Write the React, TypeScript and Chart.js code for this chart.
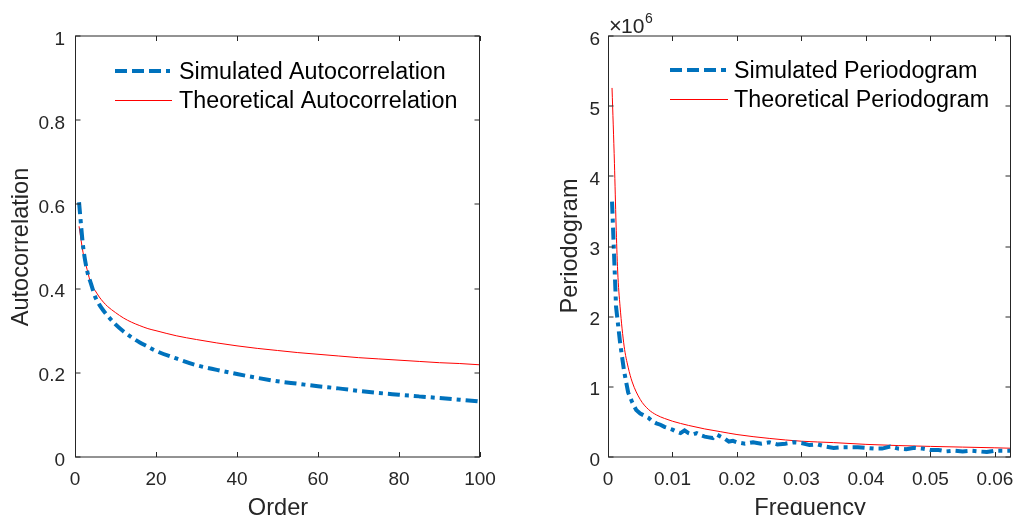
import React, { useEffect, useRef } from 'react';
import { Chart, registerables } from 'chart.js';

Chart.register(...registerables);

// ---------- Left chart data ----------
const orders = [1, 2, 3, 4, 5, 6, 7, 8, 10, 12, 14, 16, 18, 20, 25, 30, 35, 40, 45, 50, 55, 60, 65, 70, 75, 80, 85, 90, 95, 100];
const simulatedAuto = [0.605, 0.5, 0.442, 0.41, 0.38, 0.362, 0.348, 0.336, 0.315, 0.298, 0.284, 0.272, 0.262, 0.252, 0.234, 0.218, 0.207, 0.197, 0.188, 0.18, 0.174, 0.168, 0.163, 0.157, 0.152, 0.148, 0.144, 0.14, 0.136, 0.132];
const theoreticalAuto = [0.548, 0.485, 0.445, 0.41, 0.395, 0.38, 0.368, 0.358, 0.343, 0.33, 0.32, 0.312, 0.305, 0.3, 0.288, 0.279, 0.271, 0.264, 0.258, 0.253, 0.248, 0.244, 0.24, 0.236, 0.233, 0.23, 0.227, 0.224, 0.222, 0.219];
const autoXTicks = [0, 20, 40, 60, 80, 100];
const autoYTicks = [0, 0.2, 0.4, 0.6, 0.8, 1];

// ---------- Right chart data (values in units of 10^6) ----------
const simFreq = [0.000625, 0.00125, 0.001875, 0.0025, 0.003125, 0.00375, 0.004375, 0.005, 0.005625, 0.00625, 0.006875, 0.0075, 0.008125, 0.00875, 0.009375, 0.01, 0.010625, 0.01125, 0.011875, 0.0125, 0.013125, 0.01375, 0.014375, 0.015, 0.015625, 0.01625, 0.016875, 0.0175, 0.018125, 0.01875, 0.019375, 0.02, 0.02125, 0.0225, 0.02375, 0.025, 0.02625, 0.0275, 0.02875, 0.03, 0.03125, 0.0325, 0.03375, 0.035, 0.03625, 0.0375, 0.03875, 0.04, 0.04125, 0.0425, 0.04375, 0.045, 0.04625, 0.0475, 0.04875, 0.05, 0.05125, 0.0525, 0.05375, 0.055, 0.05625, 0.0575, 0.05875, 0.06, 0.06125, 0.0625];
const simulatedPer = [3.64, 2.14, 1.63, 1.22, 0.92, 0.78, 0.67, 0.62, 0.59, 0.56, 0.51, 0.48, 0.46, 0.43, 0.41, 0.39, 0.36, 0.34, 0.38, 0.34, 0.32, 0.34, 0.31, 0.29, 0.28, 0.27, 0.32, 0.29, 0.26, 0.22, 0.23, 0.21, 0.19, 0.21, 0.19, 0.21, 0.18, 0.19, 0.21, 0.2, 0.17, 0.18, 0.15, 0.13, 0.14, 0.14, 0.14, 0.13, 0.12, 0.12, 0.15, 0.12, 0.11, 0.13, 0.12, 0.1, 0.1, 0.08, 0.09, 0.08, 0.09, 0.08, 0.07, 0.09, 0.09, 0.09];
const theoFreq = [0.000625, 0.001, 0.00125, 0.0015, 0.001875, 0.0025, 0.003125, 0.00375, 0.005, 0.00625, 0.0075, 0.00875, 0.01, 0.0125, 0.015, 0.0175, 0.02, 0.025, 0.03, 0.035, 0.04, 0.045, 0.05, 0.055, 0.06, 0.0625];
const theoreticalPer = [5.26, 4.18, 3.32, 2.65, 2.14, 1.58, 1.28, 1.07, 0.82, 0.68, 0.6, 0.55, 0.51, 0.45, 0.4, 0.36, 0.32, 0.265, 0.225, 0.205, 0.18, 0.163, 0.151, 0.141, 0.131, 0.125];
const perXTicks = [0, 0.01, 0.02, 0.03, 0.04, 0.05, 0.06];
const perYTicks = [0, 1, 2, 3, 4, 5, 6];

const FONT = '"Liberation Sans", Arial, Helvetica, sans-serif';
const AXIS = '#262626';
const BLUE = '#0072BD';
const RED = '#FF0000';
const DASH = [12, 5, 4, 5];

type Decor = {
  xTicks: number[];
  yTicks: number[];
  xFmt: (v: number) => string;
  yFmt: (v: number) => string;
  yLabelGap: number;
  xTitle: string;
  xTitleX: number;
  yTitle: string;
  yTitleX: number;
  yTitleY: number;
  legend: { x0: number; x1: number; tx: number; y1: number; y2: number; labels: string[] };
  exponent?: { x: number };
};

function makeDecor(d: Decor) {
  return {
    id: 'decor',
    afterDraw(chart: any) {
      const ctx: CanvasRenderingContext2D = chart.ctx;
      const a = chart.chartArea;
      const xs = chart.scales.x;
      const ys = chart.scales.y;
      const L = Math.round(a.left) + 0.5;
      const R = Math.round(a.right) - 0.5;
      const T = Math.round(a.top);
      const B = Math.round(a.bottom);
      ctx.save();
      ctx.strokeStyle = AXIS;
      ctx.lineWidth = 1;
      ctx.setLineDash([]);
      ctx.beginPath();
      ctx.moveTo(L, T); ctx.lineTo(L, B);
      ctx.moveTo(R, T); ctx.lineTo(R, B);
      ctx.moveTo(L - 0.5, T); ctx.lineTo(R + 0.5, T);
      ctx.moveTo(L - 0.5, B); ctx.lineTo(R + 0.5, B);
      const TL = 5;
      d.xTicks.forEach((v) => {
        const px = Math.round(xs.getPixelForValue(v)) + 0.5;
        ctx.moveTo(px, B); ctx.lineTo(px, B - TL);
        ctx.moveTo(px, T); ctx.lineTo(px, T + TL);
      });
      d.yTicks.forEach((v) => {
        const py = Math.round(ys.getPixelForValue(v));
        ctx.moveTo(L, py); ctx.lineTo(L + TL, py);
        ctx.moveTo(R, py); ctx.lineTo(R - TL, py);
      });
      ctx.stroke();

      // tick labels
      ctx.fillStyle = AXIS;
      ctx.font = `19px ${FONT}`;
      ctx.textBaseline = 'alphabetic';
      ctx.textAlign = 'center';
      d.xTicks.forEach((v) => {
        const px = xs.getPixelForValue(v);
        ctx.fillText(d.xFmt(v), px, B + 28);
      });
      ctx.textAlign = 'right';
      d.yTicks.forEach((v) => {
        const py = ys.getPixelForValue(v);
        ctx.fillText(d.yFmt(v), a.left - d.yLabelGap, py + 8.5);
      });

      // axis titles
      ctx.font = `23.6px ${FONT}`;
      ctx.textAlign = 'center';
      ctx.fillText(d.xTitle, d.xTitleX, 515);
      ctx.save();
      ctx.translate(d.yTitleX, d.yTitleY);
      ctx.rotate(-Math.PI / 2);
      ctx.fillText(d.yTitle, 0, 0);
      ctx.restore();

      // exponent label
      if (d.exponent) {
        const ex = d.exponent.x;
        ctx.textAlign = 'left';
        ctx.font = `22px ${FONT}`;
        ctx.fillText('\u00D7', ex - 1, 33);
        ctx.font = `21px ${FONT}`;
        ctx.fillText('10', ex + 11, 33);
        ctx.font = `14px ${FONT}`;
        ctx.fillText('6', ex + 35, 23);
      }

      // legend
      const lg = d.legend;
      ctx.lineCap = 'butt';
      ctx.strokeStyle = BLUE;
      ctx.lineWidth = 4;
      ctx.setLineDash([12, 5]);
      ctx.beginPath();
      ctx.moveTo(lg.x0, lg.y1); ctx.lineTo(lg.x1, lg.y1);
      ctx.stroke();
      ctx.setLineDash([]);
      ctx.strokeStyle = RED;
      ctx.lineWidth = 1;
      ctx.beginPath();
      ctx.moveTo(lg.x0, lg.y2 + 0.5); ctx.lineTo(lg.x1 + 2, lg.y2 + 0.5);
      ctx.stroke();
      ctx.fillStyle = '#000';
      ctx.font = `23.3px ${FONT}`;
      ctx.textAlign = 'left';
      ctx.fillText(lg.labels[0], lg.tx, lg.y1 + 8);
      ctx.fillText(lg.labels[1], lg.tx, lg.y2 + 8);
      ctx.restore();
    },
  };
}

const fmtNum = (v: number) => String(Number(v.toFixed(4)));

function scaleOpts(min: number, max: number, ticks: number[], size: number, horizontal: boolean) {
  return {
    type: 'linear' as const,
    min,
    max,
    grid: { display: false, drawTicks: false },
    border: { display: false },
    ticks: { display: false, includeBounds: false },
    afterBuildTicks: (s: any) => {
      s.ticks = ticks.map((v) => ({ value: v }));
    },
    afterFit: (s: any) => {
      if (horizontal) s.height = size;
      else s.width = size;
    },
  };
}

export default function App() {
  const ref1 = useRef<HTMLCanvasElement>(null);
  const ref2 = useRef<HTMLCanvasElement>(null);

  useEffect(() => {
    const c1 = new Chart(ref1.current!, {
      type: 'line',
      data: {
        datasets: [
          {
            label: 'Simulated Autocorrelation',
            data: orders.map((o, i) => ({ x: o, y: simulatedAuto[i] })),
            borderColor: BLUE,
            borderWidth: 4,
            borderDash: DASH,
            pointRadius: 0,
            cubicInterpolationMode: 'monotone',
            fill: false,
          },
          {
            label: 'Theoretical Autocorrelation',
            data: orders.map((o, i) => ({ x: o, y: theoreticalAuto[i] })),
            borderColor: RED,
            borderWidth: 1,
            pointRadius: 0,
            cubicInterpolationMode: 'monotone',
            fill: false,
          },
        ],
      },
      options: {
        responsive: false,
        animation: false,
        layout: { padding: { left: 0, top: 36, right: 26, bottom: 0 } },
        plugins: { legend: { display: false }, tooltip: { enabled: false } },
        scales: {
          x: scaleOpts(0, 100, autoXTicks, 58, true),
          y: scaleOpts(0, 1, autoYTicks, 75, false),
        },
      } as any,
      plugins: [
        makeDecor({
          xTicks: autoXTicks,
          yTicks: autoYTicks,
          xFmt: fmtNum,
          yFmt: fmtNum,
          yLabelGap: 10,
          xTitle: 'Order',
          xTitleX: 278,
          yTitle: 'Autocorrelation',
          yTitleX: 28,
          yTitleY: 247,
          legend: { x0: 115, x1: 170, tx: 179, y1: 71, y2: 100, labels: ['Simulated Autocorrelation', 'Theoretical Autocorrelation'] },
        }),
      ],
    });

    const c2 = new Chart(ref2.current!, {
      type: 'line',
      data: {
        datasets: [
          {
            label: 'Simulated Periodogram',
            data: simFreq.map((f, i) => ({ x: f, y: simulatedPer[i] })),
            borderColor: BLUE,
            borderWidth: 4,
            borderDash: DASH,
            pointRadius: 0,
            tension: 0,
            fill: false,
          },
          {
            label: 'Theoretical Periodogram',
            data: theoFreq.map((f, i) => ({ x: f, y: theoreticalPer[i] })),
            borderColor: RED,
            borderWidth: 1,
            pointRadius: 0,
            cubicInterpolationMode: 'monotone',
            fill: false,
          },
        ],
      },
      options: {
        responsive: false,
        animation: false,
        layout: { padding: { left: 0, top: 36, right: 2, bottom: 0 } },
        plugins: { legend: { display: false }, tooltip: { enabled: false } },
        scales: {
          x: scaleOpts(0, 0.0625, perXTicks, 58, true),
          y: scaleOpts(0, 6, perYTicks, 102, false),
        },
      } as any,
      plugins: [
        makeDecor({
          xTicks: perXTicks,
          yTicks: perYTicks,
          xFmt: fmtNum,
          yFmt: fmtNum,
          yLabelGap: 8,
          xTitle: 'Frequency',
          xTitleX: 304,
          yTitle: 'Periodogram',
          yTitleX: 71,
          yTitleY: 246,
          legend: { x0: 164, x1: 220, tx: 228, y1: 70, y2: 99, labels: ['Simulated Periodogram', 'Theoretical Periodogram'] },
          exponent: { x: 104 },
        }),
      ],
    });

    return () => {
      c1.destroy();
      c2.destroy();
    };
  }, []);

  return (
    <div style={{ position: 'fixed', left: 0, top: 0, width: 1013, height: 515, background: '#fff', overflow: 'hidden' }}>
      <canvas ref={ref1} width={506} height={515} style={{ position: 'absolute', left: 0, top: 0, display: 'block' }} />
      <canvas ref={ref2} width={507} height={515} style={{ position: 'absolute', left: 506, top: 0, display: 'block' }} />
    </div>
  );
}
